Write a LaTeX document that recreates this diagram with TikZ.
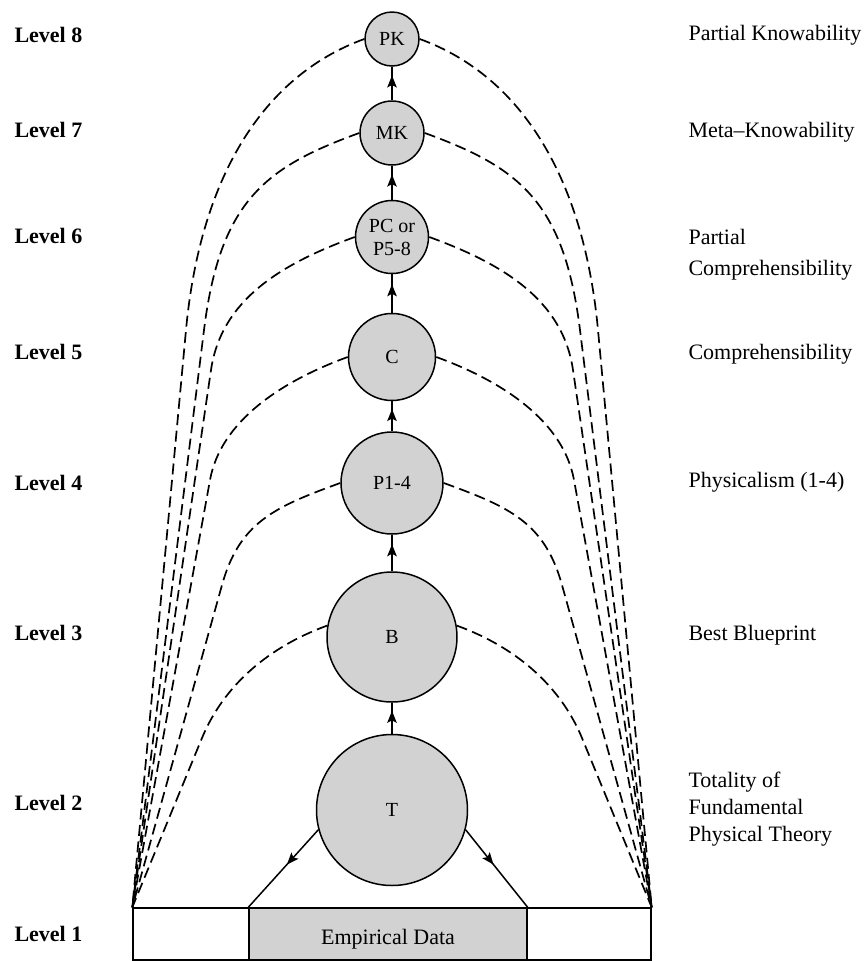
\documentclass[tikz,border=0pt]{standalone}
\usepackage{fontspec}
\setmainfont{Liberation Serif}
\usetikzlibrary{calc,arrows.meta,decorations.markings}
\definecolor{circfill}{RGB}{210,210,210}
\begin{document}
\begin{tikzpicture}[x=1pt,y=1pt,
  circ/.style={circle,draw=black,line width=1.5pt,fill=circfill,inner sep=0pt,
    font=\fontsize{20}{23}\selectfont,align=center},
  lvl/.style={anchor=base west,font=\fontsize{22}{26}\selectfont\bfseries},
  desc/.style={anchor=base west,font=\fontsize{22}{27}\selectfont,align=left},
  dashline/.style={line width=1.7pt,dash pattern=on 11pt off 5.5pt},
  uparrow/.style={line width=1.5pt,postaction={decorate},
    decoration={markings,mark=at position 0.74 with {\arrow{Stealth[length=12pt,width=9.5pt,inset=2.5pt]}}}},
  downarrow/.style={line width=1.5pt,postaction={decorate},
    decoration={markings,mark=at position 0.45 with {\arrow{Stealth[length=12pt,width=9.5pt,inset=2.5pt]}}}}
]
\useasboundingbox (0,0) rectangle (865,-962);

% circles
\node[circ,minimum size=54pt] (PK) at (392,-39) {PK};
\node[circ,minimum size=64pt] (MK) at (392,-133) {MK};
\node[circ,minimum size=73pt] (PC) at (392,-237) {PC or\\P5-8};
\node[circ,minimum size=87pt] (C) at (392,-357) {C};
\node[circ,minimum size=102pt] (P) at (392,-483) {P1-4};
\node[circ,minimum size=130pt] (B) at (392,-637) {B};
\node[circ,minimum size=151pt] (T) at (392,-810) {T};

% box
\node[draw,line width=1.4pt,minimum width=518pt,minimum height=52pt,inner sep=0pt] (box) at (392,-934) {};
\node[draw,line width=1.4pt,fill=circfill,minimum width=278pt,minimum height=52pt,inner sep=0pt,
  font=\fontsize{22}{26}\selectfont,text depth=0pt] (ED) at (388,-934) {\raisebox{-5pt}{Empirical Data}};
\coordinate (EL) at (box.north west);
\coordinate (ER) at (box.north east);

% vertical arrows
\draw[uparrow] (MK) -- (PK);
\draw[uparrow] (PC) -- (MK);
\draw[uparrow] (C) -- (PC);
\draw[uparrow] (P) -- (C);
\draw[uparrow] (B) -- (P);
\draw[uparrow] (T) -- (B);

% T to data
\draw[downarrow] (T.195) -- (ED.north west);
\draw[downarrow] (T.-15) -- (ED.north east);

% dashed curves
\foreach \n/\px/\py/\a/\b/\ang in {PK/186/330/110/150/180, MK/204/330/100/130/180,
    PC/211/370/80/70/180, C/210/480/70/60/180, P/222/585/70/65/180, B/202/738/70/50/170}{
  \pgfmathsetmacro{\qx}{784-\px}
  \pgfmathsetmacro{\rang}{180-\ang}
  \draw[dashline] (\n.\ang) .. controls ($(\n.\ang)+(-0.94*\a,-0.342*\a)$)
     and ($(\px,-\py)!-\b*1pt!(EL)$) .. (\px,-\py) -- (EL);
  \draw[dashline] (\n.\rang) .. controls ($(\n.\rang)+(0.94*\a,-0.342*\a)$)
     and ($(\qx,-\py)!-\b*1pt!(ER)$) .. (\qx,-\py) -- (ER);
}

% level labels
\node[lvl] (L8) at (11,-42.5) {Level 8};
\node[lvl] (L7) at (11,-137.5) {Level 7};
\node[lvl] (L6) at (11,-243) {Level 6};
\node[lvl] (L5) at (11,-359.5) {Level 5};
\node[lvl] (L4) at (11,-490) {Level 4};
\node[lvl] (L3) at (11,-640) {Level 3};
\node[lvl] (L2) at (11,-810.5) {Level 2};
\node[lvl] (L1) at (11,-941) {Level 1};

% descriptions
\node[desc] (D8) at (685,-40.5) {Partial Knowability};
\node[desc] (D7) at (685,-137.5) {Meta--Knowability};
\node[desc] (D6) at (685,-275.5) {Partial\\[4pt]Comprehensibility};
\node[desc] (D5) at (685,-359.5) {Comprehensibility};
\node[desc] (D4) at (685,-487.5) {Physicalism (1-4)};
\node[desc] (D3) at (685,-640.5) {Best Blueprint};
\node[desc] (D2) at (685,-841.5) {Totality of\\Fundamental\\Physical Theory};
\end{tikzpicture}
\end{document}
